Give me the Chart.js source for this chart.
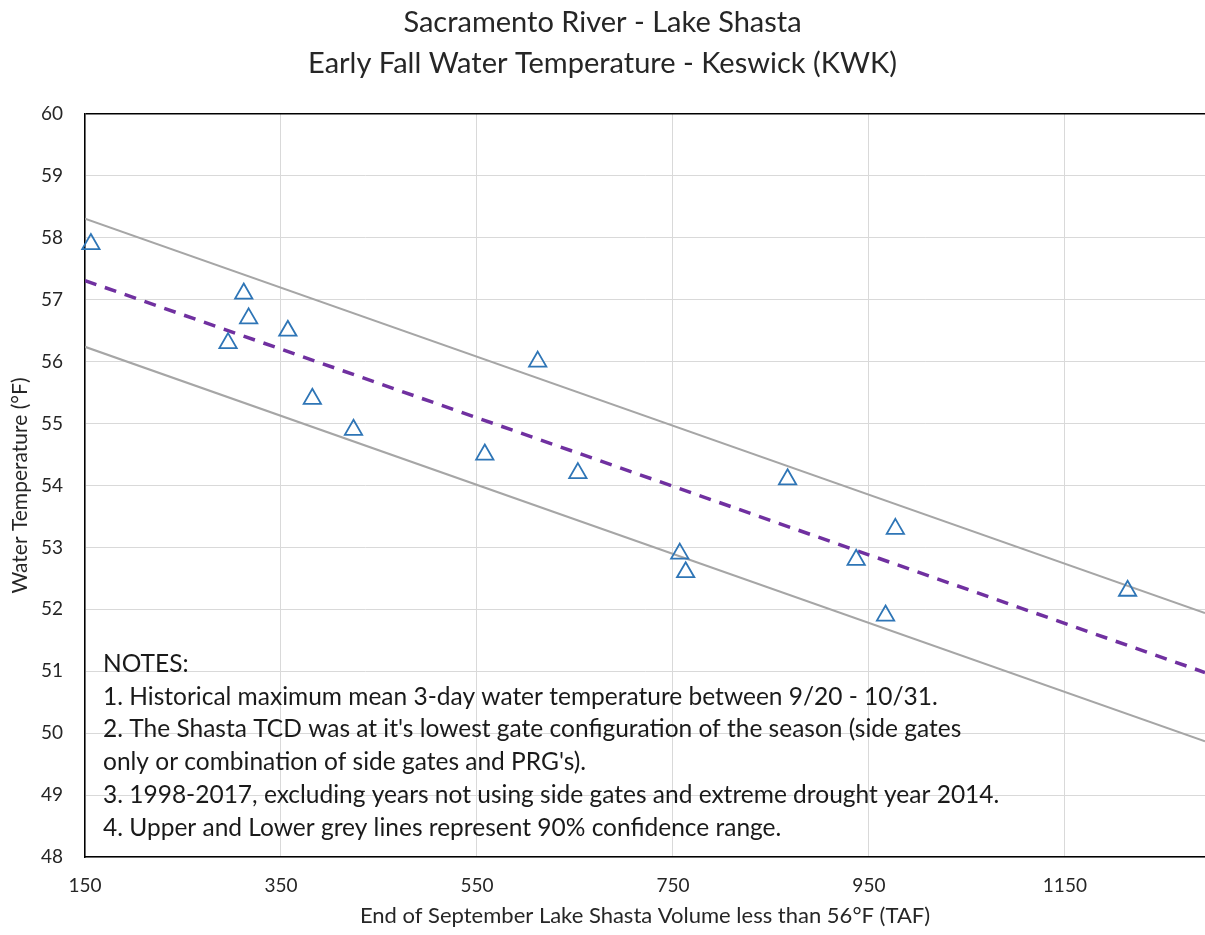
<!DOCTYPE html>
<html>
<head>
<meta charset="utf-8">
<title>Keswick early fall water temperature</title>
<script src="https://cdn.jsdelivr.net/npm/chart.js@4.4.0/dist/chart.umd.min.js"></script>
<style>
    html, body { margin: 0; padding: 0; background: #ffffff; }
    #chart_box { width: 1205px; height: 935px; }
</style>
</head>
<body>
<div id="chart_box"><canvas id="temp_canvas"></canvas></div>
<script>
// End of September Shasta volume < 56F (TAF) and max 3-day temp at KWK (F)
var volume = [156, 296, 312, 317, 357, 382, 424, 558, 612, 653, 757, 763, 867, 937, 967, 977, 1214];
var waterTemp = [57.9, 56.3, 57.1, 56.7, 56.5, 55.4, 54.9, 54.5, 56.0, 54.2, 52.9, 52.6, 54.1, 52.8, 51.9, 53.3, 52.3];

// regression line and the 90% band, read at both ends of the x axis
var lineVolume = [150, 1293];
var trendTemp = [57.31, 50.98];
var upperTemp = [58.31, 51.94];
var lowerTemp = [56.24, 49.87];

var xTicks = [150, 350, 550, 750, 950, 1150];
var yTicks = [48, 49, 50, 51, 52, 53, 54, 55, 56, 57, 58, 59, 60];

var titleLines = ["Sacramento River - Lake Shasta", "Early Fall Water Temperature - Keswick (KWK)"];
var notes = [
    "NOTES:",
    "1. Historical maximum mean 3-day water temperature between 9/20 - 10/31.",
    "2. The Shasta TCD was at it's lowest gate configuration of the season (side gates",
    "only or combination of side gates and PRG's).",
    "3. 1998-2017, excluding years not using side gates and extreme drought year 2014.",
    "4. Upper and Lower grey lines represent 90% confidence range."
];

var textColor = "#262626";
var fontName = "Lato, 'Open Sans', sans-serif";

function toPoints(xs, ys) {
    return xs.map(function (x, i) {
        return { x: x, y: ys[i] };
    });
}

// notes block sits inside the plot, lower left
var notesPlugin = {
    id: "notes",
    afterDatasetsDraw: function (chart) {
        var ctx = chart.ctx;
        var area = chart.chartArea;
        ctx.save();
        ctx.font = "24.5px " + fontName;
        ctx.fillStyle = "#1a1a1a";
        ctx.textAlign = "left";
        ctx.textBaseline = "alphabetic";
        for (var i = 0; i < notes.length; i++) {
            ctx.fillText(notes[i], area.left + 18, area.top + 558 + i * 32.7);
        }
        ctx.restore();
    }
};

var temp_canvas = document.getElementById("temp_canvas");

var tempChart = new Chart(temp_canvas, {
    type: "scatter",
    data: {
        datasets: [
            {
                label: "Observed",
                data: toPoints(volume, waterTemp),
                pointStyle: "triangle",
                pointRadius: 10,
                pointHoverRadius: 10,
                borderColor: "#2e75b6",
                backgroundColor: "rgba(255,255,255,0)",
                borderWidth: 1.8,
                showLine: false,
                clip: false,
            },
            {
                label: "Trend",
                data: toPoints(lineVolume, trendTemp),
                showLine: true,
                borderColor: "#7030a0",
                borderWidth: 3.5,
                borderDash: [12, 9],
                pointRadius: 0,
            },
            {
                label: "Upper 90%",
                data: toPoints(lineVolume, upperTemp),
                showLine: true,
                borderColor: "#a6a6a6",
                borderWidth: 2,
                pointRadius: 0,
            },
            {
                label: "Lower 90%",
                data: toPoints(lineVolume, lowerTemp),
                showLine: true,
                borderColor: "#a6a6a6",
                borderWidth: 2,
                pointRadius: 0,
            },
        ],
    },
    options: {
        responsive: true,
        maintainAspectRatio: false,
        animation: false,
        layout: { padding: 0, autoPadding: false },
        plugins: {
            legend: { display: false },
            tooltip: { enabled: false },
            title: {
                display: true,
                text: titleLines,
                color: textColor,
                font: { family: fontName, size: 29, weight: "normal", lineHeight: 1.414 },
                padding: { top: 2.5, bottom: 29.5 },
            },
        },
        scales: {
            x: {
                type: "linear",
                min: 150,
                max: 1293,
                afterBuildTicks: function (scale) {
                    scale.ticks = xTicks.map(function (v) { return { value: v }; });
                },
                afterFit: function (scale) {
                    scale.height = 78;
                },
                grid: { color: "#d9d9d9", lineWidth: 1, drawTicks: false },
                border: { color: "#000000", width: 1.5 },
                ticks: {
                    color: textColor,
                    padding: 17,
                    maxRotation: 0,
                    font: { family: fontName, size: 19 },
                    callback: function (value) { return String(value); },
                },
                title: {
                    display: true,
                    text: "End of September Lake Shasta Volume less than 56\u00B0F (TAF)",
                    color: textColor,
                    font: { family: fontName, size: 22 },
                    padding: { top: 0, bottom: 6 },
                },
            },
            y: {
                type: "linear",
                min: 48,
                max: 60,
                afterBuildTicks: function (scale) {
                    scale.ticks = yTicks.map(function (v) { return { value: v }; });
                },
                afterFit: function (scale) {
                    scale.width = 85;
                },
                grid: {
                    color: function (c) {
                        return c.tick && c.tick.value === 60 ? "#000000" : "#d9d9d9";
                    },
                    lineWidth: function (c) {
                        return c.tick && c.tick.value === 60 ? 1.5 : 1;
                    },
                    drawTicks: false,
                },
                border: { color: "#000000", width: 1.5 },
                ticks: {
                    color: textColor,
                    padding: 22,
                    font: { family: fontName, size: 19 },
                },
                title: {
                    display: true,
                    text: "Water Temperature (\u00B0F)",
                    color: textColor,
                    font: { family: fontName, size: 21 },
                    padding: { top: 8, bottom: 0 },
                },
            },
        },
    },
    plugins: [notesPlugin],
});
</script>
</body>
</html>
